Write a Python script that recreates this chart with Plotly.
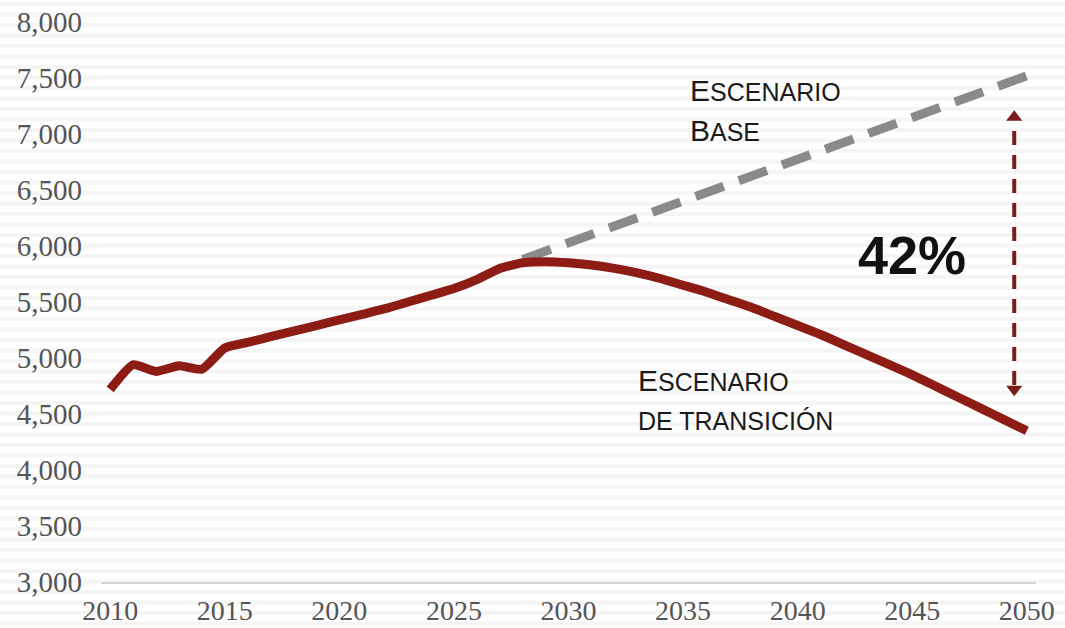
import plotly.graph_objects as go

# Emissions trajectories (thousand tonnes CO2e)
years_transicion = list(range(2010, 2051))
transicion = [4720, 4940, 4880, 4930, 4900, 5090, 5140, 5190, 5240, 5290,
              5340, 5390, 5440, 5500, 5560, 5620, 5700, 5800, 5850, 5860,
              5850, 5830, 5800, 5760, 5710, 5650, 5590, 5520, 5450, 5370,
              5290, 5210, 5120, 5030, 4940, 4850, 4750, 4650, 4550, 4450,
              4350]

years_base = [2028, 2050]
base = [5880, 7520]

reduction_label = "42%"
y_ticks = [3000, 3500, 4000, 4500, 5000, 5500, 6000, 6500, 7000, 7500, 8000]
x_ticks = [2010, 2015, 2020, 2025, 2030, 2035, 2040, 2045, 2050]

RED = "#8c1c14"
ARROW = "#7a1c1c"
GRAY = "#8a8a8a"

fig = go.Figure()

fig.add_trace(go.Scatter(
    x=years_base, y=base, mode="lines",
    line=dict(color=GRAY, width=9, dash="30px,16px"),
    hoverinfo="skip", showlegend=False))

fig.add_trace(go.Scatter(
    x=years_transicion, y=transicion, mode="lines",
    line=dict(color=RED, width=9, shape="spline", smoothing=0.5),
    showlegend=False))

# Double-headed dashed arrow between the two scenarios in 2050
arrow_x = 2049.45
fig.add_trace(go.Scatter(
    x=[arrow_x, arrow_x], y=[4760, 7100], mode="lines",
    line=dict(color=ARROW, width=4, dash="14px,10px"),
    hoverinfo="skip", showlegend=False))
fig.add_trace(go.Scatter(
    x=[arrow_x, arrow_x], y=[4720, 7150], mode="markers",
    marker=dict(symbol=["triangle-down", "triangle-up"], size=14, color=ARROW),
    hoverinfo="skip", showlegend=False))

# Faint horizontal banding behind the chart
plot_top, plot_h = 22, 560
shapes = []
y_px = 2.0
while y_px < 628:
    y0 = 1 - (y_px - plot_top) / plot_h
    y1 = 1 - (y_px + 4 - plot_top) / plot_h
    shapes.append(dict(type="rect", xref="paper", yref="paper",
                       x0=-0.11, x1=1.04, y0=y1, y1=y0,
                       fillcolor="#f5f5f5", line=dict(width=0), layer="below"))
    y_px += 10.5

sans = "Liberation Sans, Arial, sans-serif"
txt = "#1a1a1a"


def small_caps(first, rest, big=30, small=25):
    return (f"<span style='font-size:{big}px'>{first}</span>"
            f"<span style='font-size:{small}px'>{rest}</span>")


annotations = [
    dict(x=2035.2, y=7390, xref="x", yref="y", xanchor="left", yanchor="middle",
         text=small_caps("E", "SCENARIO"), showarrow=False,
         font=dict(family=sans, color=txt)),
    dict(x=2035.2, y=7030, xref="x", yref="y", xanchor="left", yanchor="middle",
         text=small_caps("B", "ASE"), showarrow=False,
         font=dict(family=sans, color=txt)),
    dict(x=2032.95, y=4795, xref="x", yref="y", xanchor="left", yanchor="middle",
         text=small_caps("E", "SCENARIO"), showarrow=False,
         font=dict(family=sans, color=txt)),
    dict(x=2032.95, y=4440, xref="x", yref="y", xanchor="left", yanchor="middle",
         text="<span style='font-size:25px'>DE TRANSICIÓN</span>", showarrow=False,
         font=dict(family=sans, color=txt)),
    dict(x=2045.0, y=5920, xref="x", yref="y", xanchor="center", yanchor="middle",
         text=f"<b>{reduction_label}</b>", showarrow=False,
         font=dict(family=sans, size=54, color="#111111")),
]

serif = "Liberation Serif, Times New Roman, serif"
fig.update_layout(
    width=1065, height=628,
    margin=dict(l=101, r=29, t=22, b=46),
    paper_bgcolor="white",
    plot_bgcolor="rgba(0,0,0,0)",
    shapes=shapes,
    annotations=annotations,
    xaxis=dict(range=[2009.6, 2050.4], tickvals=x_ticks, showgrid=False,
               zeroline=False, showline=True, linecolor="#d6d6d6", linewidth=2,
               ticks="", ticklabelstandoff=2, automargin=False,
               tickfont=dict(family=serif, size=28, color="#555555")),
    yaxis=dict(range=[3000, 8000], tickvals=y_ticks, tickformat=",d",
               showgrid=False, zeroline=False, showline=False, ticks="",
               ticklabelstandoff=18, automargin=False,
               tickfont=dict(family=serif, size=29, color="#555555")),
)

fig.write_html("out.html")
